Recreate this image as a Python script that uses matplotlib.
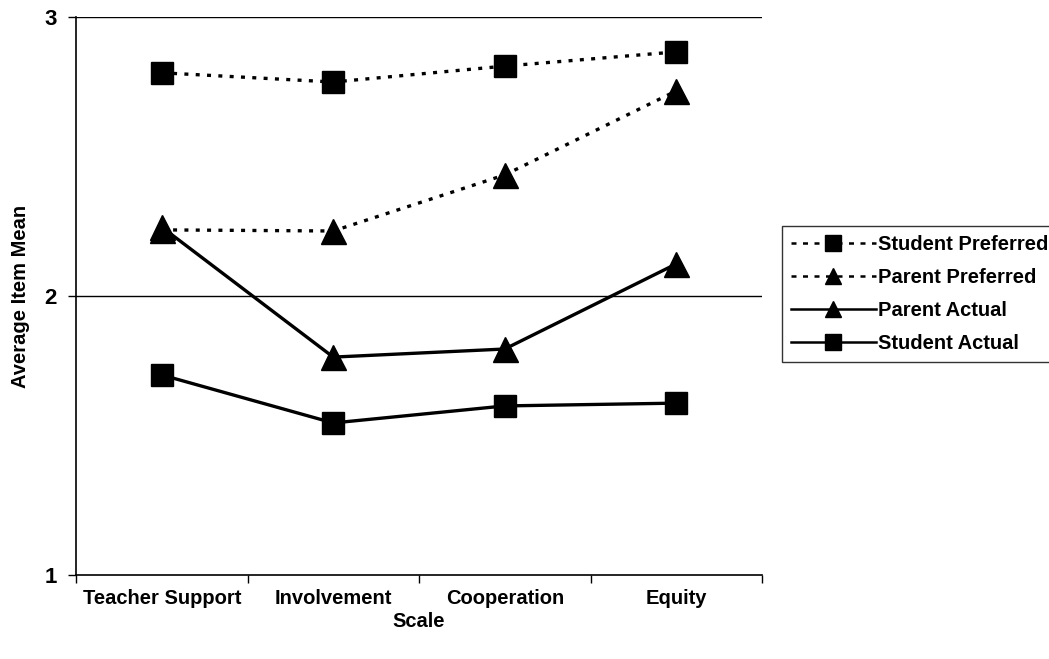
import matplotlib
matplotlib.use("Agg")
import matplotlib.pyplot as plt
from matplotlib.lines import Line2D

plt.rcParams['font.family'] = ['Liberation Sans', 'DejaVu Sans']
plt.rcParams['font.weight'] = 'bold'

categories = ["Teacher Support", "Involvement", "Cooperation", "Equity"]
student_preferred = [2.80, 2.767, 2.824, 2.875]
parent_preferred = [2.237, 2.233, 2.434, 2.735]
parent_actual = [2.247, 1.781, 1.810, 2.115]
student_actual = [1.717, 1.545, 1.606, 1.616]

series = [
    ("Student Preferred", student_preferred, "s", "dotted"),
    ("Parent Preferred", parent_preferred, "^", "dotted"),
    ("Parent Actual", parent_actual, "^", "solid"),
    ("Student Actual", student_actual, "s", "solid"),
]

fig = plt.figure(figsize=(10.49, 6.59), dpi=100)
ax = fig.add_axes([76 / 1049, 1 - 575 / 659, 686 / 1049, 558 / 659])

x = [i + 0.5 for i in range(len(categories))]
dot = (0, (1.2, 2.2))
leg_dash = (0, (2.0, 2.6))
handles = []
for name, vals, mk, style in series:
    ls = dot if style == "dotted" else "-"
    ms = 16 if mk == "s" else 18
    ax.plot(x, vals, color="black", linestyle=ls, linewidth=2.4,
            marker=mk, markersize=ms, markerfacecolor="black",
            markeredgecolor="black", zorder=3)
    hls = leg_dash if style == "dotted" else "-"
    handles.append(Line2D([], [], color="black", linestyle=hls, linewidth=1.8,
                          marker=mk, markersize=11))

ax.set_xlim(0, len(categories))
ax.set_ylim(1, 3)
ax.set_yticks([1, 2, 3])
ax.set_yticklabels(["1", "2", "3"], fontsize=16, fontweight="bold")
ax.set_xticks(range(len(categories) + 1))
ax.set_xticklabels([])
ax.set_xticks(x, minor=True)
ax.set_xticklabels(categories, minor=True, fontsize=14.5, fontweight="bold")
ax.tick_params(axis="x", which="minor", length=0, pad=10)
ax.tick_params(axis="x", which="major", direction="out", length=6, width=1)
ax.tick_params(axis="y", direction="out", length=6, width=1, pad=8)

for yv in (2, 3):
    ax.axhline(yv, color="black", linewidth=1, zorder=1)

for side in ("top", "right"):
    ax.spines[side].set_visible(False)
for side in ("left", "bottom"):
    ax.spines[side].set_linewidth(1.2)

ax.set_xlabel("Scale", fontsize=14.5, fontweight="bold", labelpad=3)
ax.set_ylabel("Average Item Mean", fontsize=14.5, fontweight="bold", labelpad=10)

leg = fig.legend(handles, [s[0] for s in series], loc="upper left",
                 bbox_to_anchor=(782 / 1049, 1 - 226 / 659),
                 frameon=True, fancybox=False, edgecolor="black",
                 fontsize=14.5, handlelength=4.2, handletextpad=0.1,
                 borderpad=0.45, labelspacing=0.7, borderaxespad=0)
leg.get_frame().set_linewidth(1)
for t in leg.get_texts():
    t.set_fontweight("bold")

fig.savefig("out.png", dpi=100)
